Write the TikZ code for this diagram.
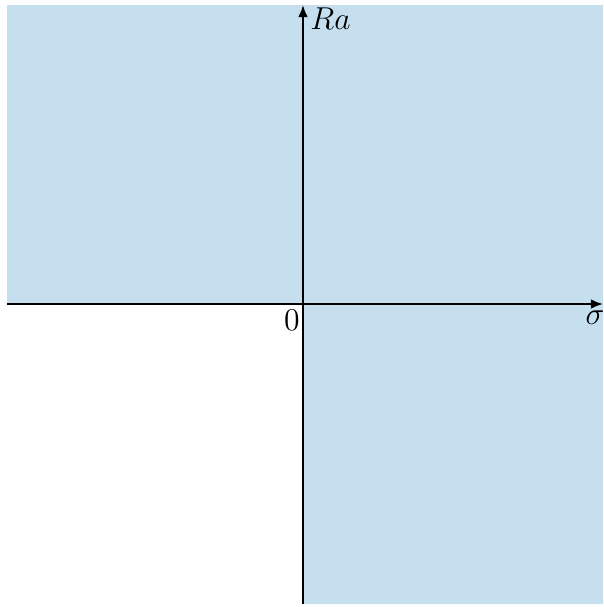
\documentclass[tikz,border=0pt]{standalone}
\usetikzlibrary{arrows.meta}
\definecolor{regionblue}{RGB}{197,223,238}
\tikzset{
  axis/.style={line width=0.9pt,-{Latex[length=5.5pt,width=4.4pt]}},
  region/.style={fill=regionblue,draw=none},
  lbl/.style={inner sep=0pt,font=\Large}
}
\begin{document}
\begin{tikzpicture}[x=0.4545pt,y=-0.4545pt]
\useasboundingbox (0,0) rectangle (603,607);
\fill[region] (7,5) -- (603,5) -- (603,604) -- (303,604) -- (303,304) -- (7,304) -- cycle;
\coordinate (xl) at (7,304);
\coordinate (xr) at (603,304);
\coordinate (yb) at (303,604);
\coordinate (yt) at (303,5);
\draw[axis] (xl) -- (xr);
\draw[axis] (yb) -- (yt);
\node[lbl,anchor=west] (ra) at (310,19) {$Ra$};
\node[lbl] (sig) at (595,318) {$\sigma$};
\node[lbl] (zero) at (292,320) {$0$};
\end{tikzpicture}
\end{document}
